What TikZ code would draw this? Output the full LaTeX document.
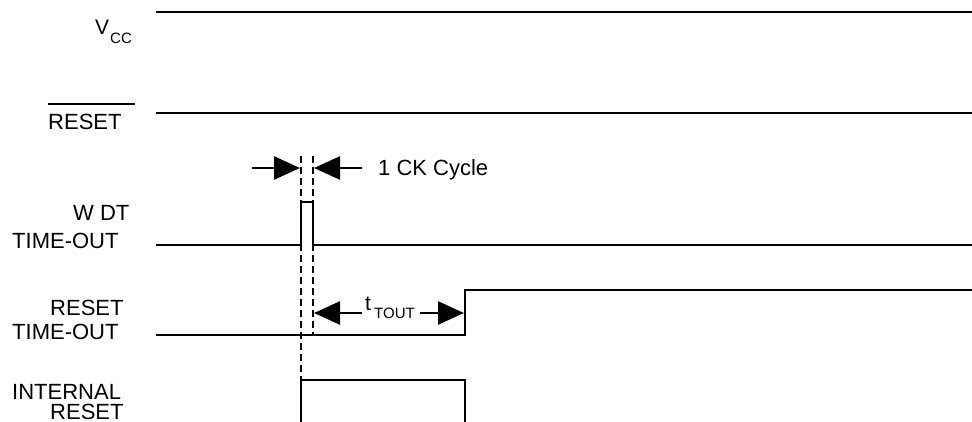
\documentclass[tikz,border=0pt]{standalone}
\usepackage{fontspec}
\setmainfont{Liberation Sans}
\usetikzlibrary{arrows.meta}
\begin{document}
\begin{tikzpicture}[x=1pt,y=-1pt,
  sig/.style={line width=2.6pt, line join=miter},
  guide/.style={line width=2.2pt, dash pattern=on 7pt off 4pt},
  dim/.style={line width=2.6pt, -{Triangle[length=26pt,width=23pt]}},
  lbl/.style={anchor=base west, inner sep=0pt, font=\fontsize{22}{22}\selectfont},
  lblv/.style={anchor=base west, inner sep=0pt, font=\fontsize{21}{21}\selectfont},
  small/.style={anchor=base west, inner sep=0pt, font=\fontsize{15}{15}\selectfont}]
\useasboundingbox (0,0) rectangle (972,422);
% labels
\node[lblv] (vccV) at (95,35) {V};
\node[small] (vccCC) at (110,44) {CC};
\node[lbl] (rst) at (48,130) {RESET};
\draw[line width=2.4pt] (48,104) -- (135,104);
\node[lbl] (wdt1) at (73,221) {W DT};
\node[lbl] (wdt2) at (12,249) {TIME-OUT};
\node[lbl] (rto1) at (50,315) {RESET};
\node[lbl] (rto2) at (12,339) {TIME-OUT};
\node[lbl] (ir1) at (12,399) {INTERNAL};
\node[lbl] (ir2) at (50,419) {RESET};
% signals
\draw[sig] (156,12) -- (972,12);
\draw[sig] (156,113) -- (972,113);
\draw[sig] (156,245) -- (301,245) -- (301,202) -- (313,202) -- (313,245) -- (972,245);
\draw[sig] (156,335) -- (465,335) -- (465,290) -- (972,290);
\draw[sig] (301,425) -- (301,380) -- (465,380) -- (465,425);
% guides
\draw[guide] (301,156) -- (301,380);
\draw[guide] (313,156) -- (313,334);
% 1 CK cycle
\coordinate (ckL) at (252,168);
\coordinate (ckLt) at (300,168);
\coordinate (ckR) at (362,168);
\coordinate (ckRt) at (314,168);
\draw[dim] (ckL) -- (ckLt);
\draw[dim] (ckR) -- (ckRt);
\node[lbl] (ck) at (378,176) {1 CK Cycle};
% tTOUT
\coordinate (toL) at (362,313);
\coordinate (toLt) at (314,313);
\coordinate (toR) at (420,313);
\coordinate (toRt) at (464,313);
\draw[dim] (toL) -- (toLt);
\draw[dim] (toR) -- (toRt);
\node[lblv] (tt) at (365,310) {t};
\node[small] (ttout) at (374,318) {TOUT};
\end{tikzpicture}
\end{document}
